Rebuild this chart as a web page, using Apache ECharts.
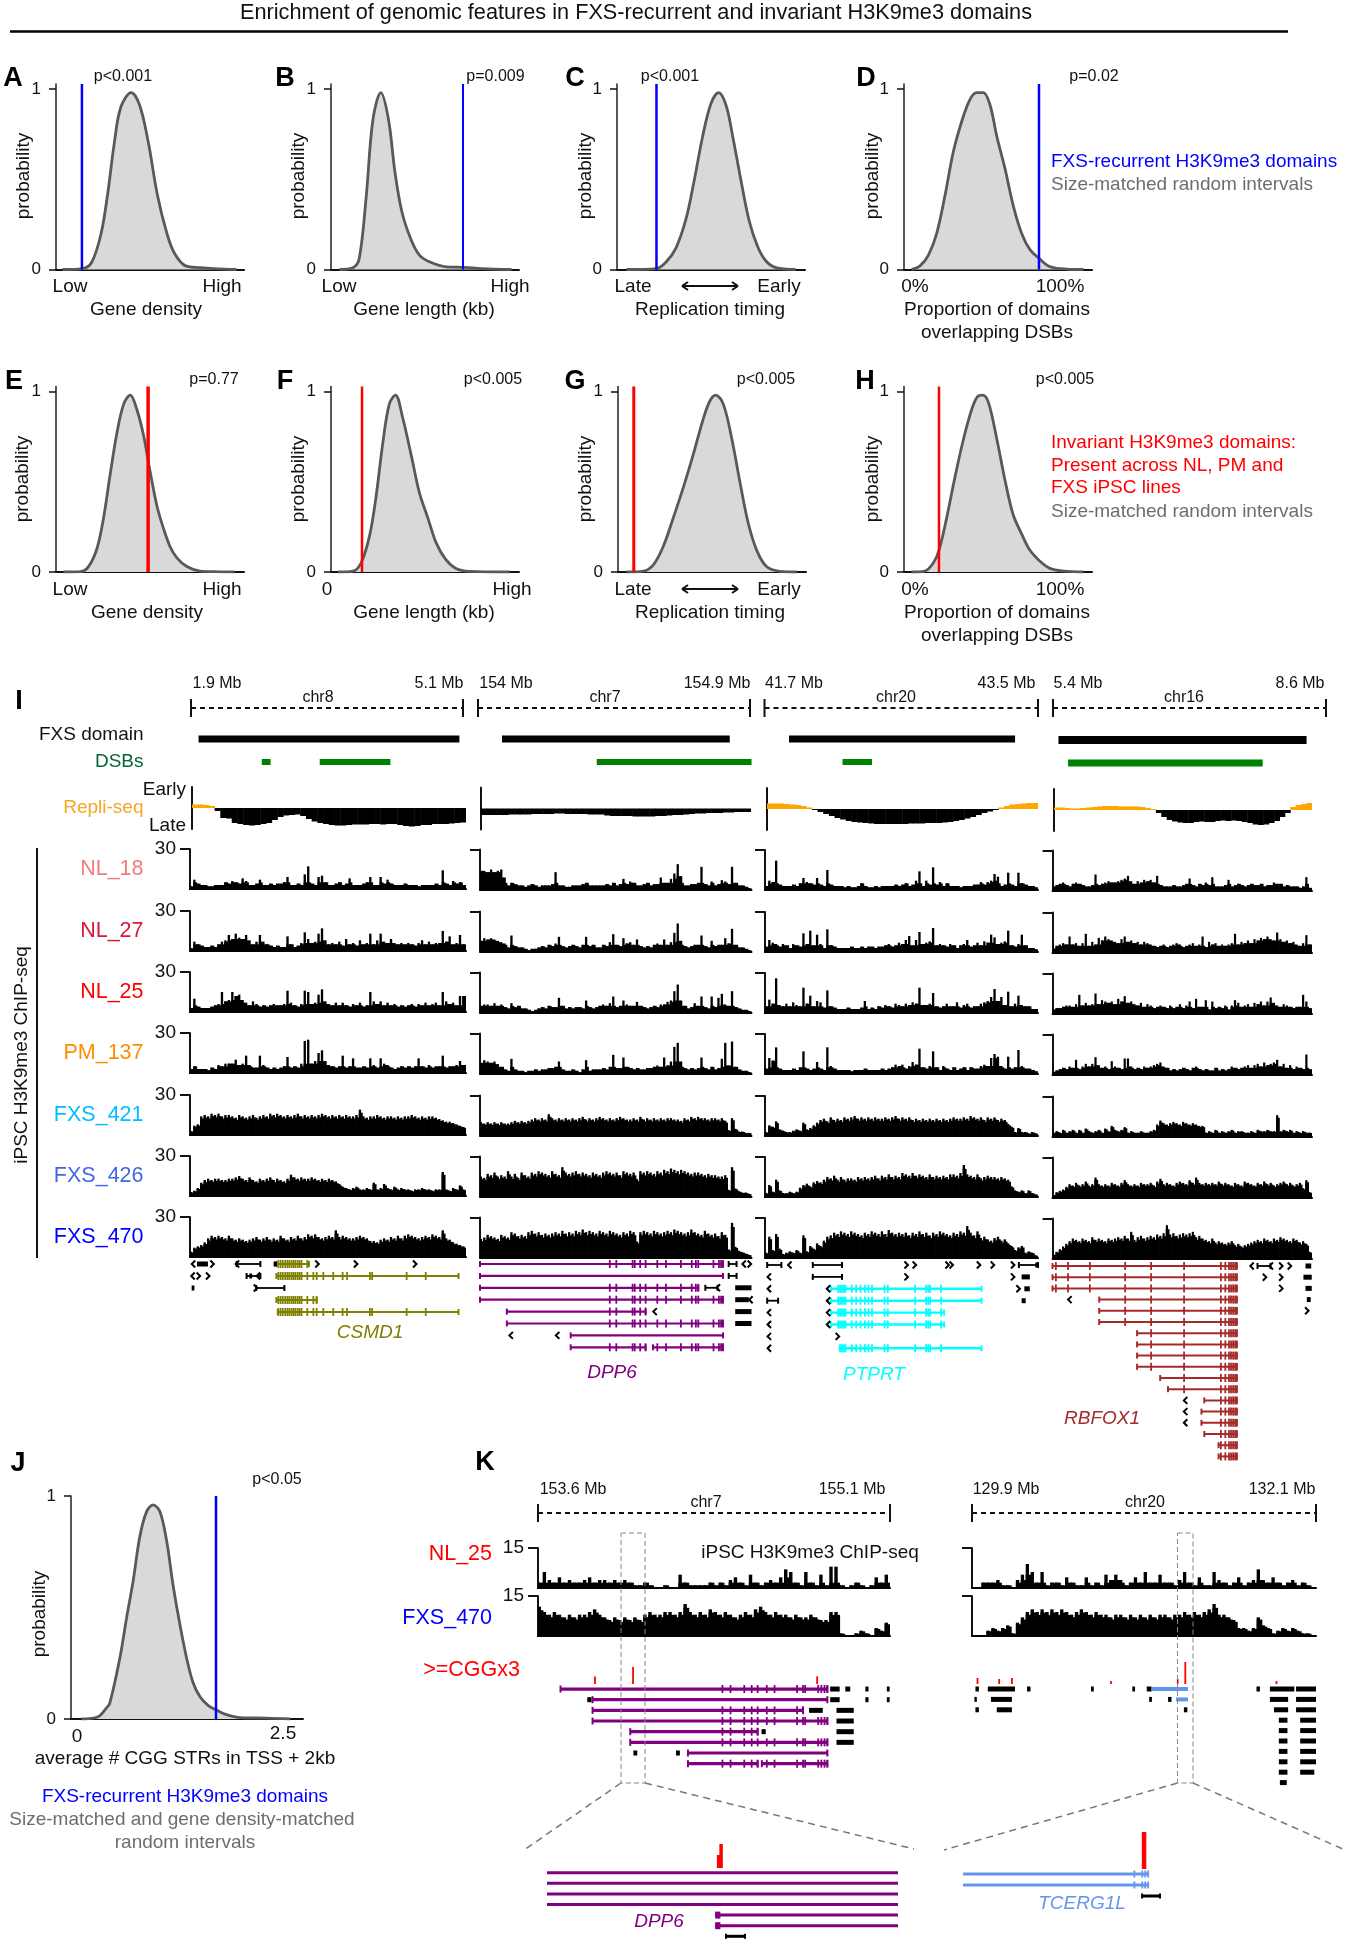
<!DOCTYPE html>
<html><head><meta charset="utf-8">
<style>html,body{margin:0;padding:0;background:#fff}#c{width:1350px;height:1944px}</style>
<script src="https://cdn.jsdelivr.net/npm/echarts@6/dist/echarts.min.js"></script>
</head><body><div id="c"></div>
<script>
// ---------- density curves: position along the axis (%), probability
const aX=[3.5,14,19,24,27.5,31,34.5,40,44.5,49,54,59,63,69,77,84,96];
const aY=[0,.005,.04,.2,.42,.7,.9,.98,.91,.71,.41,.2,.09,.02,.01,.005,0];
const bX=[4.5,11.6,15,18.7,22.3,26.5,30.6,34,37.7,42.4,47,53,61.4,71,80,96];
const bY=[0,.01,.06,.4,.83,.98,.83,.54,.32,.17,.08,.04,.015,.012,.005,0];
const cX=[5,20.8,26,31.4,36.7,41,45.6,50,54,58,61.5,66,70.3,74.7,79,84.5,95];
const cY=[0,.005,.04,.12,.28,.49,.74,.92,.98,.91,.74,.49,.27,.13,.05,.01,0];
const dX=[4,8.5,13,17.4,21.8,26.2,30.7,35,38.6,42.2,45.8,49.3,53.7,58.2,62.6,67,72,76.8,83,95.4];
const dY=[0,.02,.08,.2,.41,.65,.82,.94,.98,.98,.91,.74,.56,.35,.2,.11,.06,.02,.005,0];
const eX=[4,13,17.3,21.8,25.3,28.8,32.4,36,39.5,43,46.5,50,53.6,57.2,60.7,64.2,69.6,76.6,85.5,95];
const eY=[0,.002,.03,.13,.3,.54,.77,.93,.98,.9,.76,.56,.37,.24,.14,.08,.03,.005,.002,0];
const fX=[3.7,11.7,16,20.5,24,27.5,31,34.3,38,42.6,47,51.5,56,61,66.5,73.6,95];
const fY=[0,.005,.05,.2,.42,.71,.93,.98,.86,.65,.44,.3,.16,.07,.02,.004,0];
const gX=[4.6,13.5,18.8,24,29.4,34.8,40,45.4,49,52,56,60.5,65,69.3,73.8,79,86,95];
const gY=[0,.005,.04,.14,.3,.47,.65,.85,.95,.98,.93,.74,.49,.27,.12,.03,.004,0];
const hX=[4,11,15.6,18.6,22.7,27,31.5,36,39,41.8,44.9,49.3,53.7,58,62.6,67,72.3,77.6,85,95.4];
const hY=[0,.005,.05,.12,.3,.52,.73,.9,.97,.98,.94,.74,.51,.32,.21,.12,.06,.02,.005,0];
const jX=[4.5,11.7,15.3,16.7,21,23.9,26.8,29.7,32.6,35.4,38.3,41.2,44,47,49.9,52.7,55.6,59.2,62.8,67,74.4,84.4,94.5];
const jY=[0,.01,.05,.07,.27,.45,.62,.82,.93,.96,.93,.8,.6,.42,.27,.16,.1,.06,.04,.02,.005,.004,0];
const domainMarks=[13.8,70.2,21,71.8,49,16.5,8.4,18.6,62.5];

// ---------- Repli-seq
const repliChr8=[3.5,3.5,3,2,-3,-10,-10.5,-15,-16,-17,-17.5,-17,-16,-15,-12,-9,-7.5,-7,-6.5,-8,-11,-13.5,-15,-16,-17,-17.5,-17.5,-17,-16.5,-16.5,-16.5,-16,-16,-16.5,-16,-16,-17,-18,-18.5,-18,-17,-17,-16,-16,-16,-15.5,-15,-14.5];
const repliChr7=[-6.5,-6.5,-6.5,-6.5,-6.5,-6,-6,-6,-6,-5.5,-5.5,-5.5,-5.5,-5,-5,-5.5,-5.5,-5.5,-5.5,-6,-6,-6,-7,-7.5,-7.5,-7.5,-7.5,-8,-8,-8,-8,-7.5,-7.5,-7,-6.5,-6.5,-6,-5.5,-5,-5,-4.5,-4.5,-4.5,-4,-4,-3.5,-3.5,-3.5];
const repliChr20=[5.5,5.5,5.5,5,4.5,4,3,1.5,-1,-3,-5,-7,-9,-10.5,-12,-13,-13.5,-14,-14.5,-15,-15,-15,-15,-15,-15,-14.5,-14.5,-14.5,-14,-14,-14,-13.5,-13,-12,-11,-9.5,-8,-6,-4,-2.5,-1,1.5,3,4.5,5,5.5,6,6];
const repliChr16=[2.5,2.5,2,1.5,1.5,2,2.5,3,3.5,4,4,4,3.5,3.5,3.5,3.5,3,2,1,-3,-7,-10,-11.5,-12.5,-13,-13,-12,-11.5,-12,-12,-11,-10.5,-11,-10.5,-11,-12,-13,-14.5,-15,-14.5,-13,-11,-7,-3,3,5,6,7];

// ---------- H3K9me3 coverage
const nl18Chr8=[2,7,4,3,3,2,2,3,3,3,5,4,6,5,4,8,6,3,3,4,7,3,3,4,3,4,4,5,9,3,3,4,3,11,17,4,3,9,10,5,3,3,4,5,3,4,8,3,3,3,4,5,9,3,3,9,4,7,4,3,3,3,4,3,3,3,2,3,3,3,3,4,3,14,4,3,6,4,5,3];
const nl27Chr8=[2,7,5,4,3,3,4,3,5,7,8,12,9,13,10,9,12,8,5,7,12,7,5,4,3,4,3,3,11,5,3,4,6,14,9,6,7,13,17,8,5,6,5,7,4,9,5,6,4,8,5,6,13,5,8,13,7,6,9,6,5,6,5,6,5,4,6,8,5,7,5,6,6,15,7,11,5,6,12,5];
const nl25Chr8=[3,10,4,3,3,3,4,5,6,15,8,9,15,12,13,9,7,5,8,6,4,5,4,5,6,5,5,6,16,7,5,4,6,16,15,6,7,13,17,8,6,5,7,5,7,5,4,6,5,7,4,5,15,8,6,8,5,7,5,6,4,5,4,5,6,4,6,5,7,5,6,7,5,15,8,6,7,5,12,12];
const pm137Chr8=[3,5,3,3,3,2,4,3,6,5,7,7,7,10,6,7,13,6,4,4,13,6,4,3,4,3,4,5,12,4,5,4,7,24,25,7,9,15,17,9,6,5,4,5,13,4,5,11,4,4,5,4,11,6,4,11,7,6,4,3,4,5,4,5,4,5,11,5,4,6,4,5,5,13,4,5,5,6,9,6];
const fxs421Chr8=[3,7,8,14,15,14,16,15,16,14,15,15,14,13,15,14,13,14,15,13,14,15,14,16,15,16,15,14,15,14,15,16,14,15,14,15,14,15,16,15,14,15,14,15,14,15,14,14,15,19,14,13,14,14,15,14,13,14,14,13,14,13,14,14,15,14,13,14,13,14,14,13,12,11,10,10,9,8,7,6];
const fxs426Chr8=[3,4,6,10,12,13,12,13,13,12,12,13,13,14,15,13,12,14,12,11,13,12,13,14,12,13,12,11,13,16,14,13,14,13,13,14,13,12,13,12,13,12,11,9,7,6,5,6,7,5,5,6,5,10,5,6,9,6,5,7,5,6,5,5,4,5,5,6,5,5,4,5,5,18,5,4,6,5,8,5];
const fxs470Chr8=[4,7,8,9,11,14,16,15,16,15,14,16,14,13,14,13,12,13,14,15,13,14,15,13,14,13,16,14,13,15,14,16,14,15,17,16,17,15,14,15,16,15,20,15,16,15,14,14,15,16,15,14,12,12,11,13,14,13,15,14,16,14,16,17,16,15,14,15,16,15,17,16,15,20,14,13,11,10,9,8];

const nl18Chr7=[14,14,13,15,13,14,15,9,3,5,4,3,3,2,3,4,3,2,3,3,3,4,13,3,3,2,2,3,3,3,4,5,3,3,3,3,3,4,3,5,3,4,8,4,6,5,3,3,4,5,3,4,4,9,5,5,8,12,19,10,3,3,4,4,5,17,4,3,6,3,4,7,6,4,17,5,3,3,2,1];
const nl27Chr7=[8,10,9,10,9,8,7,6,3,12,4,3,3,2,1,2,2,3,4,3,5,4,6,11,4,3,4,5,4,3,5,11,4,5,3,3,5,4,7,13,5,4,10,6,7,5,9,4,3,4,3,5,6,5,9,5,7,14,21,8,4,3,4,5,5,12,4,3,8,4,5,5,10,6,17,5,3,3,2,1];
const nl25Chr7=[5,6,6,5,7,5,6,4,3,7,4,5,3,3,2,1,2,3,4,3,5,4,4,11,5,3,4,3,4,4,3,9,4,3,4,5,6,5,7,12,4,5,9,6,5,5,8,5,4,3,4,5,4,6,6,8,9,16,21,9,5,3,4,7,5,12,4,3,12,4,11,14,6,5,16,4,3,2,2,1];
const pm137Chr7=[8,10,9,8,9,7,5,3,2,11,3,2,2,1,2,2,3,2,3,3,4,4,5,9,3,2,2,3,2,1,3,10,2,3,3,3,4,3,5,14,4,4,12,5,4,3,4,3,3,4,4,5,6,5,12,6,9,20,23,9,4,3,4,3,4,12,4,3,5,3,4,11,23,6,24,5,3,2,2,1];
const fxs421Chr7=[10,9,10,9,10,9,10,9,9,10,11,10,11,10,11,12,13,12,13,12,16,13,12,13,12,13,12,13,12,13,14,12,13,12,13,14,13,12,13,12,13,14,13,12,12,13,12,14,12,13,12,13,12,13,12,13,13,12,12,11,13,12,14,13,14,13,13,12,13,13,12,13,11,4,13,5,3,3,2,2];
const fxs426Chr7=[15,14,17,16,18,15,16,15,19,15,17,14,18,16,15,18,17,19,18,17,16,19,17,16,22,18,17,18,19,17,18,17,16,18,17,16,18,19,18,17,18,16,19,18,17,18,13,19,18,19,18,17,19,18,20,19,21,20,19,20,19,18,17,18,18,17,16,17,16,16,15,15,16,5,22,6,4,3,3,2];
const fxs470Chr7=[14,15,17,16,15,14,17,16,15,19,18,16,17,16,19,20,18,19,17,18,17,18,19,18,20,18,19,18,20,19,21,19,20,19,18,20,19,18,20,19,18,17,19,18,20,19,12,19,20,19,18,20,19,18,19,20,19,21,20,19,18,19,21,19,18,17,20,18,17,18,16,19,17,6,26,8,5,4,3,2];

const nl18Chr20=[3,7,6,22,4,3,3,3,4,3,5,9,6,5,4,9,4,3,15,4,3,3,3,2,3,2,2,3,5,3,2,2,3,2,3,3,3,3,4,3,4,5,3,4,7,14,3,7,4,17,4,6,3,5,3,3,3,2,3,3,3,4,4,6,4,6,7,12,10,3,4,13,4,3,13,5,4,3,3,2];
const nl27Chr20=[4,9,7,6,4,6,5,3,6,5,4,14,6,16,5,13,6,3,17,5,4,3,3,3,3,4,3,3,4,3,4,4,3,4,4,5,6,4,5,7,6,9,12,5,9,15,6,7,8,18,5,6,5,4,6,5,3,5,6,9,4,5,7,5,8,7,13,11,6,7,8,16,5,4,6,13,5,3,3,2];
const nl25Chr20=[5,10,7,26,6,5,7,5,8,6,5,19,7,13,5,9,8,4,17,5,4,3,3,3,4,3,3,3,4,9,3,4,3,5,4,6,5,4,7,6,5,7,6,8,7,19,6,6,7,15,5,4,5,7,5,5,8,4,6,7,4,5,5,7,8,9,12,18,9,12,6,16,5,7,13,6,5,5,3,3];
const pm137Chr20=[4,12,10,20,4,3,3,3,4,3,5,17,4,3,4,9,4,3,20,6,4,3,3,3,3,2,3,3,3,4,3,3,3,3,4,3,4,5,7,6,7,4,6,9,7,19,5,4,6,17,5,3,6,4,3,5,3,4,5,3,5,4,4,6,7,6,12,15,13,6,4,13,4,5,18,6,4,4,3,2];
const fxs421Chr20=[3,8,7,11,5,4,3,3,4,5,4,10,5,6,8,10,12,13,11,14,12,13,12,14,13,14,15,13,14,13,14,13,14,13,13,14,13,14,15,13,14,13,14,12,13,12,13,12,13,12,13,12,13,12,13,14,13,13,14,13,15,14,13,14,12,14,13,14,12,13,12,9,7,3,6,3,3,2,3,2];
const fxs426Chr20=[3,9,4,13,5,3,3,4,3,4,7,9,10,8,11,12,11,13,15,14,16,13,15,13,14,14,13,15,14,15,14,15,16,14,16,15,17,15,16,15,18,17,16,18,16,17,16,15,17,15,16,15,16,15,17,17,16,18,24,17,16,15,17,14,15,16,15,15,14,15,14,13,8,5,4,5,3,5,3,2];
const fxs470Chr20=[4,16,6,18,7,3,4,5,4,6,4,17,5,9,7,11,9,13,16,17,19,18,20,19,18,20,19,18,17,19,18,20,19,18,20,18,21,19,18,19,18,19,17,19,18,20,18,19,17,19,18,20,19,18,17,19,18,20,19,24,19,17,20,15,16,14,13,15,16,13,14,11,9,6,8,9,4,5,4,2];

const nl18Chr16=[3,4,5,6,4,3,5,6,5,4,3,3,4,12,4,5,6,7,6,6,7,8,9,11,7,5,7,6,8,7,8,6,11,4,3,3,3,4,3,3,4,5,9,4,3,5,4,6,4,10,3,3,3,4,8,3,4,5,4,3,4,5,4,4,5,3,4,4,6,5,5,3,4,3,3,3,2,3,10,2];
const nl27Chr16=[3,5,6,7,6,12,6,7,5,7,14,5,8,6,11,9,12,10,9,8,7,10,12,8,9,7,8,6,8,7,6,5,4,5,6,4,5,6,7,6,4,5,6,7,5,6,12,4,8,6,7,5,6,5,6,7,14,6,8,7,9,7,10,9,11,10,12,10,9,15,10,8,9,7,8,6,5,7,13,6];
const nl25Chr16=[3,4,4,5,6,6,5,7,14,6,8,6,7,15,7,10,9,8,9,7,11,9,13,8,9,7,6,8,5,7,6,4,5,6,5,4,6,4,5,7,4,6,9,4,11,5,5,10,3,9,4,5,4,6,3,6,10,8,5,6,7,5,8,7,9,6,9,12,8,6,5,7,6,5,4,5,5,14,9,4];
const pm137Chr16=[2,3,4,5,4,6,5,11,4,6,8,6,8,13,7,5,6,4,10,6,5,4,12,12,6,4,5,4,6,5,6,7,8,9,6,5,3,4,3,4,5,4,3,5,6,4,3,4,3,3,5,3,4,3,4,6,5,4,5,6,7,5,7,8,6,9,7,8,9,11,6,8,5,7,4,6,5,4,15,4];
const fxs421Chr16=[3,4,3,5,3,4,5,3,5,3,6,4,3,4,5,3,6,4,8,5,4,5,7,3,4,3,3,4,3,3,4,5,9,12,10,9,10,11,10,9,11,10,9,10,9,8,8,3,4,3,5,3,4,3,4,5,3,4,4,3,3,4,3,5,4,4,5,4,4,16,4,5,4,5,3,4,3,4,3,3];
const fxs426Chr16=[2,4,5,6,8,10,9,11,9,10,12,9,10,15,10,9,10,9,11,10,9,11,13,10,9,10,9,11,10,10,11,9,12,14,10,11,10,9,11,12,11,10,13,11,15,11,10,11,10,11,10,12,10,11,10,9,11,10,9,12,11,10,9,11,10,12,10,11,9,10,11,12,10,11,9,10,11,7,13,4];
const fxs470Chr16=[3,5,7,9,11,13,15,14,13,15,14,13,16,14,15,14,13,15,14,15,16,15,17,15,20,14,16,17,15,16,17,16,18,17,19,25,18,19,17,18,19,18,19,20,16,17,15,14,13,15,12,13,12,11,12,13,10,11,9,10,11,12,13,14,13,15,14,13,15,14,16,15,14,13,15,14,12,13,11,5];

const kNl25Chr7=[2,6,3,2,4,2,3,2,2,3,4,2,3,3,2,3,2,3,2,1,1,2,1,0,0,1,0,0,5,2,1,1,1,1,2,1,2,1,3,4,2,1,5,2,1,2,3,2,4,7,6,2,1,6,2,1,5,1,8,8,1,0,1,2,1,0,1,4,2,5];
const kFxs470Chr7=[11,9,8,9,8,7,8,7,8,8,9,10,8,7,6,7,6,7,6,7,6,8,9,8,8,9,9,8,9,12,9,8,9,8,10,9,8,9,8,7,8,9,8,10,11,9,8,9,8,8,7,8,7,7,8,7,6,6,9,9,1,0,0,1,2,1,0,3,2,5];
const kNl25Chr20=[0,0,2,2,2,3,1,1,0,3,5,9,6,2,6,1,2,2,1,4,2,1,1,4,1,2,1,5,3,5,3,1,2,4,2,6,2,2,5,2,2,1,3,6,2,1,4,1,1,6,3,2,1,2,4,1,2,3,7,3,2,4,2,1,2,3,1,2,1,0];
const kFxs470Chr20=[0,0,0,2,3,2,3,4,1,5,7,9,10,9,10,9,10,9,10,9,8,9,10,9,8,9,8,8,7,8,8,7,8,7,8,7,8,7,8,8,7,8,8,9,8,9,8,9,10,12,8,8,7,6,3,3,2,3,7,4,3,1,2,3,2,3,2,1,1,0];

// ---------- domains [row, start %, end %]
const domainsChr8=[[0,3.1,97.6],[1,26,29.2],[1,47,72.6]];
const domainsChr7=[[0,8.1,92],[1,43,100]];
const domainsChr20=[[0,8.8,91.6],[1,28.4,39.2]];
const domainsChr16=[[0,2.3,97.9],[1,6,81]];

// ---------- gene models [row, start %, end %, has exons]
const csmd1Rows=[[0,31.3,43.1,1],[1,31.3,97.3,1],[3,31.3,45.9,1],[4,31.8,97.3,1]];
const csmd1Exons=[32,32.8,33.6,34.5,35.3,36,36.8,37.5,38.2,39,39.7,40.4,42.5,44.7,45.9,48.3,51.9,55.3,56.9,65.2,66,78.5,85.4];
const chr8Lines=[[0,16.9,25.5,0],[1,20.5,25.5,0],[2,24,34.2,0]];
const chr8Blocks=[[0,2.5,6.5],[0,30.3,31.5],[2,0.6,1.6],[1,21.5,22.5]];
const chr8Chevrons=[[0,1,-1],[0,8.3,1],[0,16.9,-1],[0,46.3,1],[0,60.3,1],[0,81.7,1],[1,0.8,-1],[1,3.3,1],[1,6.7,1],[1,24.5,-1],[2,24,1]];

const dpp6Rows=[[0,0,89.5,1],[1,0,89.5,0],[2,0,80.4,1],[3,0,89.5,1],[4,9.9,61,1],[5,9.9,89.5,1],[6,33.4,89.5,0],[7,33.4,61,1],[7,63.7,89.5,1]];
const dpp6Exons=[47.8,50.2,56.2,57,59,61,65.3,68.5,74,78,79.5,80.4,86,88,88.8,89.5];
const chr7Lines=[[0,91.6,94.5,0],[1,91.6,94.5,0],[2,83,87.5,0]];
const chr7Blocks=[[2,94,100],[3,94,99],[4,94,100],[5,94,100]];
const chr7Chevrons=[[0,97,-1],[0,99.5,1],[2,87.5,-1],[3,99.5,-1],[4,64.2,-1],[6,11.2,-1],[6,28.3,-1]];

const ptprtRows=[[2,24.2,79.3,1],[3,24.2,79.3,1],[4,24.2,65.6,1],[5,24.2,65.6,1],[7,27.4,79.3,1]];
const ptprtExons=[26.8,27.5,28.2,28.9,29.5,31.8,33.4,35,36.6,37.9,39.2,43.8,45,55,59,59.8,60.5,64.5];
const chr20Lines=[[0,0.8,6,0],[0,17.5,28.2,0],[1,17.5,28.2,0],[3,0.8,4.8,0],[0,93,100,0]];
const chr20Blocks=[[1,94,97],[2,95,97],[3,94,95.5],[0,99,100]];
const chr20Chevrons=[[0,8.8,-1],[0,52,1],[0,55,1],[0,67,1],[0,68.5,1],[0,78.5,1],[0,83.6,1],[0,91,1],[1,1.3,-1],[1,52,1],[1,91,1],[2,1.3,-1],[2,93,1],[4,1.3,-1],[5,1.3,-1],[6,1.3,-1],[7,1.3,-1],[6,26.8,1],[2,23,-1],[3,23,-1],[4,23,-1],[5,23,-1]];

const rbfox1Rows=[[0,0,71,1],[1,0,71,1],[2,0,71,1],[3,18,71,1],[4,18,71,1],[5,18,71,1],[6,32.6,71,1],[7,32.6,71,1],[8,32.6,71,1],[9,32.6,71,1],[10,41.5,71,1],[11,44.5,71,1],[12,58.5,71,1],[13,57.4,71,1],[14,57.4,71,1],[15,58.5,71,1],[16,64,71,1],[17,64,71,1]];
const rbfox1Exons=[1.3,6,14.4,28,38,50.7,64.9,66.6,68,68.8,69.6,70.4,71];
const chr16Lines=[[0,79,84,0]];
const chr16Blocks=[[0,97.5,99.7],[1,96.7,99.9],[2,97.5,99.9],[3,98,99.5]];
const chr16Chevrons=[[0,76.6,-1],[0,84,-1],[0,88.3,1],[0,91.6,1],[1,82,1],[1,88.3,1],[2,88.3,1],[3,6.4,-1],[4,98.3,1],[12,51,-1],[13,51,-1],[14,51,-1]];

const kDpp6Rows=[[0,6.4,82.2,1],[1,15.5,82.2,0],[2,15.5,75.3,1],[3,15.5,82.2,1],[4,26.2,62.4,1],[5,26.2,82.2,1],[6,42.6,82.2,0],[7,42.6,62.4,1],[7,63.6,82.2,1]];
const kDpp6Exons=[52.4,54.7,58.6,60.7,62.4,65,67.2,73.6,75.3,75.9,79.6,80.5,81.4,82.2];
const kChr7Blocks=[[0,83,85.7],[1,83,85.7],[2,77,80.9],[2,84.8,89.7],[3,84.8,89.7],[4,84.8,89.7],[5,84.8,89.7],[0,87.3,88.7],[0,93,93.9],[0,99.1,99.9],[1,93,93.9],[1,99.1,99.9],[1,14,15.2],[4,63.5,64.7],[6,27.1,28.2],[6,39.2,40.3]];
const kTcergRows=[[0,52.2,62.8,0],[1,59.3,62.8,0]];
const kChr20Blocks=[[0,1,2],[0,4.6,12.5],[0,16,17],[0,34.6,35.4],[0,46.6,47.4],[0,50.8,52.2],[0,82.7,83.7],[0,86.6,93.7],[0,94.2,100],[1,0.7,1.4],[1,5.5,11.6],[1,51.5,52.3],[1,57,58],[1,86.6,91.9],[1,94.2,100],[2,1,2],[2,7.2,11.6],[2,61.6,62.6],[2,87.8,91.9],[2,94.2,100],[3,89.2,91.7],[3,95.4,100],[4,89.2,91.7],[4,95.4,100],[5,89.2,91.7],[5,95.4,100],[6,89.2,91.7],[6,95.4,100],[7,89.2,91.7],[7,95.4,100],[8,89.2,91.7],[8,95.4,99.5],[9,89.5,91.5]];
const kCggChr7=[[16.2,7.6],[27,17],[79.3,7.6]];
const kCggChr20=[[1.6,6],[7.9,5],[11.6,6],[40.4,3],[59.8,5],[62,22],[88.5,3]];

const insetDpp6Rows=[[0,0,100,0],[1,0,100,0],[2,0,100,0],[3,0,100,0],[4,47.9,100,0],[5,47.9,100,0]];
const insetDpp6Exons=[48.6,49.3];
const insetTcergRows=[[0,0,94,1],[1,0,94,1]];
const insetTcergExons=[87,91,92.5,94];
const insetBlackLeft=[[6,51,56.4]];
const insetBlackRight=[[2,90.9,100]];
const insetCggLeft=[[48.9,13],[49.6,24]];
const insetCggRight=[[91.9,37]];

// ---------- labels
const sampleNames=['NL_18','NL_27','NL_25','PM_137','FXS_421','FXS_426','FXS_470'];
const sampleColors=['#f27c7c','#dc143c','#ff0000','#ff8c00','#00bfff','#4169e1','#0000ff'];
const coverage=[
 [nl18Chr8,nl27Chr8,nl25Chr8,pm137Chr8,fxs421Chr8,fxs426Chr8,fxs470Chr8],
 [nl18Chr7,nl27Chr7,nl25Chr7,pm137Chr7,fxs421Chr7,fxs426Chr7,fxs470Chr7],
 [nl18Chr20,nl27Chr20,nl25Chr20,pm137Chr20,fxs421Chr20,fxs426Chr20,fxs470Chr20],
 [nl18Chr16,nl27Chr16,nl25Chr16,pm137Chr16,fxs421Chr16,fxs426Chr16,fxs470Chr16]];

// ---------- layout
const FONT='"Liberation Sans",Arial,sans-serif';
const INK='#111';
const opt={animation:false,backgroundColor:'#fff',grid:[],xAxis:[],yAxis:[],series:[],graphic:[]};
function addGrid(l,t,w,h,xa,ya){const i=opt.grid.length;
 opt.grid.push({left:l,top:t,width:w,height:h,containLabel:false,outerBoundsMode:'none',show:false});
 opt.xAxis.push(Object.assign({gridIndex:i,splitLine:{show:false},axisLabel:{show:false},axisTick:{show:false},axisLine:{show:false}},xa));
 opt.yAxis.push(Object.assign({gridIndex:i,splitLine:{show:false},axisLabel:{show:false},axisTick:{show:false},axisLine:{show:false}},ya));
 return i;}
function T(text,x,y,size,fill,o){o=o||{};
 opt.graphic.push({type:'text',x:x,y:y+1,rotation:o.rot||0,z:50,silent:true,style:{text:text,x:0,y:0,fill:fill||INK,
  font:(o.it?'italic ':'')+(o.b?'bold ':'')+size+'px '+FONT,textAlign:o.a||'center',textVerticalAlign:'middle'}});}
function L(x1,y1,x2,y2,c,w,dash){opt.graphic.push({type:'line',z:40,silent:true,shape:{x1,y1,x2,y2},style:{stroke:c||INK,lineWidth:w||1,lineDash:dash||null}});}

// density panels
function density(name,X,Y,left,zero,mark,markColor,markW,w){
 w=w||188;const isJ=zero===1719;const topY=isJ?1496:zero-185.5;const h=zero-topY;const ym=isJ?1:185.5/180.5;
 const g=addGrid(left,topY,w,h,{type:'value',min:0,max:100,axisLine:{show:true,onZero:false,lineStyle:{color:INK,width:2}}},
  {type:'value',min:0,max:ym,axisLine:{show:true,lineStyle:{color:'#222',width:1.5}},
   axisTick:{show:true,length:7,customValues:[0,1],lineStyle:{color:INK,width:1.5}},
   axisLabel:{show:true,customValues:[0,1],margin:15,fontSize:17,fontFamily:FONT,color:INK,formatter:v=>String(v)}});
 opt.series.push({name:name,type:'line',xAxisIndex:g,yAxisIndex:g,smooth:0.35,showSymbol:false,data:X.map((x,i)=>[x,Y[i]]),
  lineStyle:{color:'#595959',width:2.8},itemStyle:{color:'#595959'},areaStyle:{color:'#d9d9d9',opacity:1},z:2});
 opt.series.push({name:name+' observed',type:'line',xAxisIndex:g,yAxisIndex:g,showSymbol:false,data:[[mark,0],[mark,ym]],
  lineStyle:{color:markColor,width:markW},itemStyle:{color:markColor},z:3});
}
const BLUE='#0000ff',RED='#ff0000';
density('A',aX,aY,56,269.5,domainMarks[0],BLUE,2.5);
density('B',bX,bY,331,269.5,domainMarks[1],BLUE,2);
density('C',cX,cY,617,269.5,domainMarks[2],BLUE,2.5);
density('D',dX,dY,904,269.5,domainMarks[3],BLUE,2.5);
density('E',eX,eY,56,572,domainMarks[4],RED,3.5);
density('F',fX,fY,331,572,domainMarks[5],RED,2.5);
density('G',gX,gY,618,572,domainMarks[6],RED,3);
density('H',hX,hY,904,572,domainMarks[7],RED,2.5);
density('J',jX,jY,71,1719,domainMarks[8],BLUE,2.5,232);

// title
T('Enrichment of genomic features in FXS-recurrent and invariant H3K9me3 domains',636,12,21.7);
L(10,31.5,1288,31.5,'#000',2.5);
// panel letters
[['A',13,78],['B',285,78],['C',575,78],['D',866,78],['E',14,381],['F',285,381],['G',575,381],['H',865,381],['I',19,701],['J',18,1463],['K',485,1462]].forEach(a=>T(a[0],a[1],a[2],27,'#000',{b:1}));
// density annotations
function pv(t,x,y){T(t,x,y,16);}
pv('p<0.001',123,76);pv('p=0.009',495.5,76);pv('p<0.001',670,76);pv('p=0.02',1094,76);
pv('p=0.77',214,379);pv('p<0.005',493,379);pv('p<0.005',766,379);pv('p<0.005',1065,379);pv('p<0.05',277,1479);
const FS=19;
[[24,175],[299,175],[586,175],[873,175],[23,478],[299,478],[586,478],[873,478],[40,1613]].forEach(p=>T('probability',p[0],p[1],FS,INK,{rot:Math.PI/2}));
function xl(t,x,y){T(t,x,y,FS);}
xl('Low',70,286);xl('High',222,286);xl('Gene density',146,309);
xl('Low',339,286);xl('High',510,286);xl('Gene length (kb)',424,309);
xl('Late',633,286);xl('Early',779,286);xl('Replication timing',710,309);
xl('0%',915,286);xl('100%',1060,286);xl('Proportion of domains',997,309);xl('overlapping DSBs',997,332);
xl('Low',70,589);xl('High',222,589);xl('Gene density',147,612);
xl('0',327,589);xl('High',512,589);xl('Gene length (kb)',424,612);
xl('Late',633,589);xl('Early',779,589);xl('Replication timing',710,612);
xl('0%',915,589);xl('100%',1060,589);xl('Proportion of domains',997,612);xl('overlapping DSBs',997,635);
function arrow(x1,x2,y){L(x1,y,x2,y,'#111',2);
 [[x1,1],[x2,-1]].forEach(a=>{L(a[0],y,a[0]+a[1]*6,y-4,'#111',2);L(a[0],y,a[0]+a[1]*6,y+4,'#111',2);});}
arrow(682,738,286);arrow(682,738,589);
// side legends
const GRAY='#6d6d6d';
T('FXS-recurrent H3K9me3 domains',1051,161,19,BLUE,{a:'left'});
T('Size-matched random intervals',1051,184,19,GRAY,{a:'left'});
T('Invariant H3K9me3 domains:',1051,442,19,RED,{a:'left'});
T('Present across NL, PM and',1051,465,19,RED,{a:'left'});
T('FXS iPSC lines',1051,487,19,RED,{a:'left'});
T('Size-matched random intervals',1051,511,19,GRAY,{a:'left'});
// panel J text
T('0',77,1736,19);T('2.5',283,1733,19);
T('average # CGG STRs in TSS + 2kb',185,1758,19);
T('FXS-recurrent H3K9me3 domains',185,1796,19,BLUE);
T('Size-matched and gene density-matched',182,1819,19,GRAY);
T('random intervals',185,1842,19,GRAY);

// panel I: rulers
function ruler(x1,x2,y,a,b,ax,bx,name,nx,ty,cy){
 L(x1,y,x2,y,'#111',2,[5,4]);L(x1,y-9,x1,y+9,'#111',2);L(x2,y-9,x2,y+9,'#111',2);
 T(a,ax,ty,16);T(b,bx,ty,16);T(name,nx,cy,16);}
ruler(191,463,708,'1.9 Mb','5.1 Mb',217,439,'chr8',318,683,697);
ruler(478,750,708,'154 Mb','154.9 Mb',506,717,'chr7',605,683,697);
ruler(764.5,1038,708,'41.7 Mb','43.5 Mb',794,1006.5,'chr20',896,683,697);
ruler(1053,1326,708,'5.4 Mb','8.6 Mb',1078,1300,'chr16',1184,683,697);

const RIGHT=143.5;
T('FXS domain',RIGHT,734,19,INK,{a:'right'});
T('DSBs',RIGHT,761,19,'#006837',{a:'right'});
T('Repli-seq',RIGHT,807,19,'#f5a623',{a:'right'});
T('Early',186,789,19,INK,{a:'right'});
T('Late',186,825,19,INK,{a:'right'});
const trackBases=[889,951,1012,1073,1135,1196,1257];
trackBases.forEach((b,i)=>T(sampleNames[i],RIGHT,b-21,21.5,sampleColors[i],{a:'right'}));
L(37,848,37,1258,'#111',2);
T('iPSC H3K9me3 ChIP-seq',22,1054,19,INK,{rot:Math.PI/2});

// panel I tracks: read values as thin spikes over a solid lower part
const cols=[{l:190,w:276,dy:0},{l:480,w:271.5,dy:0.5},{l:765,w:273,dy:1},{l:1052.5,w:259.5,dy:1.5}];
function track(values,left,top,w,h,maxV,showLabel,name,cap,frac){
 const g=addGrid(left,top,w,h,{type:'category',data:values.map((_,i)=>i),axisLine:{show:true,onZero:false,lineStyle:{color:'#000',width:2}}},
  {type:'value',min:0,max:maxV,interval:maxV,axisLine:{show:true,lineStyle:{color:'#111',width:2}},
   axisTick:{show:true,length:10,customValues:[maxV],lineStyle:{color:'#111',width:2}},
   axisLabel:{show:showLabel,customValues:[maxV],margin:14,fontSize:19,fontFamily:FONT,color:INK}});
 const body=values.map((v,i)=>{const p=values[i-1]===undefined?v:values[i-1],n=values[i+1]===undefined?v:values[i+1];
  return Math.min(v*frac,Math.max(cap,Math.min(p,n)));});
 opt.series.push({name:name,type:'bar',xAxisIndex:g,yAxisIndex:g,data:values,barWidth:'68%',barGap:'-100%',itemStyle:{color:'#000'},z:2});
 opt.series.push({name:name+' body',type:'bar',xAxisIndex:g,yAxisIndex:g,data:body,barWidth:'115%',barGap:'-100%',itemStyle:{color:'#000'},z:2});
}
coverage.forEach((colData,c)=>colData.forEach((vals,r)=>{
 const col=cols[c];const base=trackBases[r]+col.dy;const fxs=r>=4;
 track(vals,col.l,base-40,col.w,40,30,c===0,sampleNames[r]+' col'+c,fxs?40:5,fxs?0.88:1);
}));

// Repli-seq
const repli=[repliChr8,repliChr7,repliChr20,repliChr16];
const repliBox=[[192,787,274],[480.5,787.5,270.5],[767,788,271],[1054,789,258]];
repli.forEach((vals,i)=>{const b=repliBox[i];
 const g=addGrid(b[0],b[1],b[2],42,{type:'category',data:vals.map((_,k)=>k)},
  {type:'value',min:-21,max:21,axisLine:{show:true,onZero:false,lineStyle:{color:'#111',width:2}}});
 opt.series.push({name:'Repli-seq '+i,type:'bar',xAxisIndex:g,yAxisIndex:g,data:vals,barWidth:'108%',
  itemStyle:{color:p=>p.value>=0?'#ffa500':'#000'}});
});

// interval renderer
function band(rows,color,lw,exons,exonH,endH){return function(params,api){
 const s=api.value(1),e=api.value(2),r=api.value(0),has=api.value(3);
 const a=api.coord([s,r]),b=api.coord([e,r]);const kids=[];
 kids.push({type:'rect',shape:{x:a[0],y:a[1]-lw/2,width:Math.max(b[0]-a[0],2),height:lw},style:{fill:color}});
 if(endH){[a,b].forEach(p=>kids.push({type:'rect',shape:{x:p[0]-1,y:p[1]-endH/2,width:2,height:endH},style:{fill:color}}));}
 if(has&&exons){exons.forEach(x=>{if(x>=s&&x<=e){const p=api.coord([x,r]);
   kids.push({type:'rect',shape:{x:p[0]-0.9,y:p[1]-exonH/2,width:1.8,height:exonH},style:{fill:color}});}});}
 return {type:'group',children:kids};};}
function addBand(g,name,rows,color,lw,exons,exonH,endH){
 opt.series.push({name:name,type:'custom',xAxisIndex:g,yAxisIndex:g,coordinateSystem:'cartesian2d',clip:false,
  data:rows.map(r=>[r[0],r[1],r[2],r[3]||0]),encode:{x:[1,2],y:0},renderItem:band(rows,color,lw,exons,exonH,endH)});}
function addChev(g,name,rows,color){
 opt.series.push({name:name,type:'custom',xAxisIndex:g,yAxisIndex:g,coordinateSystem:'cartesian2d',clip:false,
  data:rows,encode:{x:1,y:0},renderItem:function(p,api){const c=api.coord([api.value(1),api.value(0)]);const d=api.value(2)*2.5;
   return {type:'polyline',shape:{points:[[c[0]-d,c[1]-3.5],[c[0]+d*0.4,c[1]],[c[0]-d,c[1]+3.5]]},style:{stroke:color,fill:null,lineWidth:2}};}});}
function axisBox(l,t,w,h,n){return addGrid(l,t,w,h,{type:'value',min:0,max:100},{type:'value',min:-0.5,max:n-0.5,inverse:true});}
function addMarks(g,name,rows,w,color){
 opt.series.push({name:name,type:'custom',xAxisIndex:g,yAxisIndex:g,coordinateSystem:'cartesian2d',clip:false,
  data:rows,encode:{x:0,y:1},renderItem:function(p,api){const a=api.coord([api.value(0),api.value(1)]);const b=api.coord([api.value(0),0]);
   return {type:'rect',shape:{x:a[0]-w/2,y:a[1],width:w,height:b[1]-a[1]},style:{fill:color}};}});}

// FXS domain + DSB bands
[[domainsChr8,7,6],[domainsChr7,7,6],[domainsChr20,7,6],[domainsChr16,8,7]].forEach((d,i)=>{
 const g=axisBox(cols[i].l,727.5+(i===3?1:0),cols[i].w,46,2);
 addBand(g,'FXS domain '+i,d[0].filter(r=>r[0]===0),'#000',d[1]);
 addBand(g,'DSBs '+i,d[0].filter(r=>r[0]===1),'#008000',d[2]);
});

// gene tracks
const geneCols=[
 {n:5,sp:12,top:1264,name:'CSMD1',rows:csmd1Rows,ex:csmd1Exons,c:'#808000',lw:1.8,h:8,lines:chr8Lines,blocks:chr8Blocks,chev:chr8Chevrons},
 {n:8,sp:11.9,top:1264,name:'DPP6',rows:dpp6Rows,ex:dpp6Exons,c:'#800080',lw:2.2,h:8,lines:chr7Lines,blocks:chr7Blocks,chev:chr7Chevrons},
 {n:8,sp:11.9,top:1265,name:'PTPRT',rows:ptprtRows,ex:ptprtExons,c:'#00ffff',lw:2.4,h:8,lines:chr20Lines,blocks:chr20Blocks,chev:chr20Chevrons},
 {n:18,sp:11.2,top:1266,name:'RBFOX1',rows:rbfox1Rows,ex:rbfox1Exons,c:'#a52a2a',lw:2,h:8,lines:chr16Lines,blocks:chr16Blocks,chev:chr16Chevrons}];
geneCols.forEach((gc,i)=>{
 const g=axisBox(cols[i].l,gc.top-gc.sp/2,cols[i].w,gc.sp*gc.n,gc.n);
 addBand(g,gc.name,gc.rows,gc.c,gc.lw,gc.ex,gc.h,6);
 addBand(g,gc.name+' neighbours',gc.lines,'#000',1.8,null,0,6);
 addBand(g,gc.name+' neighbour exons',gc.blocks,'#000',5);
 addChev(g,gc.name+' short genes',gc.chev,'#000');
});
T('CSMD1',370,1332,19,'#808000',{it:1});
T('DPP6',612,1372,19,'#800080',{it:1});
T('PTPRT',874,1374,19,'#00ffff',{it:1});
T('RBFOX1',1102,1418,19,'#a52a2a',{it:1});

// panel K
ruler(538,890,1513,'153.6 Mb','155.1 Mb',573,852,'chr7',706,1489,1502);
ruler(972,1316,1513,'129.9 Mb','132.1 Mb',1006,1282,'chr20',1145,1489,1502);
T('NL_25',492,1553,21.5,RED,{a:'right'});
T('FXS_470',492,1617,21.5,BLUE,{a:'right'});
T('>=CGGx3',520,1669,21.5,RED,{a:'right'});
T('iPSC H3K9me3 ChIP-seq',810,1552,19);
track(kNl25Chr7,538,1548,352,40,15,true,'K NL_25 chr7',2,1);
track(kFxs470Chr7,538,1596,352,40,15,true,'K FXS_470 chr7',40,0.88);
track(kNl25Chr20,972,1548,344,40,15,false,'K NL_25 chr20',2,1);
track(kFxs470Chr20,972,1596,344,40,15,false,'K FXS_470 chr20',40,0.88);

const cggLeft=addGrid(538,1660,352,24,{type:'value',min:0,max:100},{type:'value',min:0,max:24});
addMarks(cggLeft,'CGG chr7',kCggChr7,1.8,RED);
const cggRight=addGrid(972,1660,344,24,{type:'value',min:0,max:100},{type:'value',min:0,max:24});
addMarks(cggRight,'CGG chr20',kCggChr20,1.8,RED);

const kLeft=axisBox(538,1683.7,352,85.3,8);
addBand(kLeft,'DPP6 K',kDpp6Rows,'#800080',3.2,kDpp6Exons,8,7);
addBand(kLeft,'K chr7 others',kChr7Blocks,'#000',5);
const kRight=axisBox(972,1683.8,344,104,10);
addBand(kRight,'K chr20 others',kChr20Blocks,'#000',5);
addBand(kRight,'TCERG1L K',kTcergRows,'#6495ed',4);

// insets
const inL=axisBox(547,1867.4,351,74.2,7);
addBand(inL,'DPP6 inset',insetDpp6Rows,'#800080',3,insetDpp6Exons,0,0);
addBand(inL,'DPP6 inset start',insetDpp6Rows.slice(4).map(r=>[r[0],r[1],r[1]+1.5,0]),'#800080',7);
addBand(inL,'inset other left',insetBlackLeft,'#000',3,null,0,5);
const inR=axisBox(963,1868.5,197,33,3);
addBand(inR,'TCERG1L inset',insetTcergRows,'#6495ed',3,insetTcergExons,7,0);
addBand(inR,'inset other right',insetBlackRight,'#000',3,null,0,5);
const cggInL=addGrid(547,1840,351,28,{type:'value',min:0,max:100},{type:'value',min:0,max:28});
addMarks(cggInL,'CGG inset chr7',insetCggLeft,3.5,RED);
const cggInR=addGrid(963,1832,197,37,{type:'value',min:0,max:100},{type:'value',min:0,max:37});
addMarks(cggInR,'CGG inset chr20',insetCggRight,4.5,RED);
T('DPP6',659,1921,19,'#800080',{it:1});
T('TCERG1L',1082,1903,19,'#6495ed',{it:1});

// dashed zoom boxes
function dashBox(x1,x2,y1,y2){opt.graphic.push({type:'rect',z:45,silent:true,shape:{x:x1,y:y1,width:x2-x1,height:y2-y1},style:{fill:null,stroke:'#888',lineWidth:1,lineDash:[5,3]}});}
dashBox(621,645,1533,1783);dashBox(1177.5,1193,1533,1783);
L(621,1783,524,1850,'#777',1.5,[7,5]);L(645,1783,914,1849,'#777',1.5,[7,5]);
L(1177.5,1783,944,1850,'#777',1.5,[7,5]);L(1193,1783,1345,1850,'#777',1.5,[7,5]);

const chart=echarts.init(document.getElementById('c'),null,{renderer:'canvas',width:1350,height:1944});
chart.setOption(opt);
</script></body></html>
